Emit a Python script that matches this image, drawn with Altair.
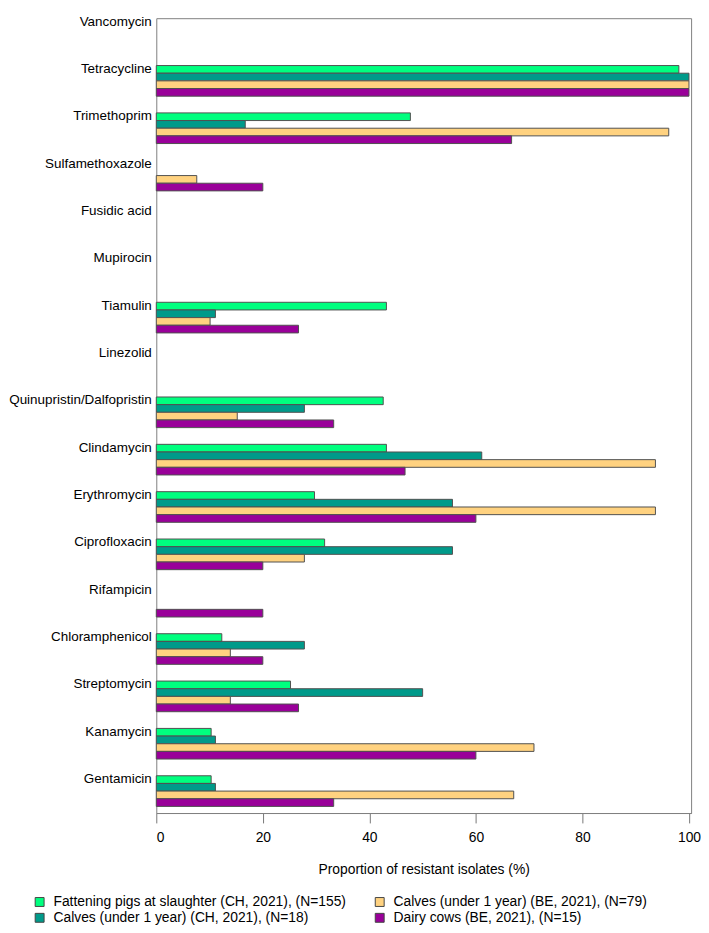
import altair as alt
import pandas as pd

antibiotics = ["Vancomycin", "Tetracycline", "Trimethoprim", "Sulfamethoxazole",
               "Fusidic acid", "Mupirocin", "Tiamulin", "Linezolid",
               "Quinupristin/Dalfopristin", "Clindamycin", "Erythromycin",
               "Ciprofloxacin", "Rifampicin", "Chloramphenicol", "Streptomycin",
               "Kanamycin", "Gentamicin"]

pigs_ch = [0, 98.1, 47.7, 0, 0, 0, 43.2, 0, 42.6, 43.2, 29.7, 31.6, 0, 12.3, 25.2, 10.3, 10.3]
calves_ch = [0, 100, 16.7, 0, 0, 0, 11.1, 0, 27.8, 61.1, 55.6, 55.6, 0, 27.8, 50.0, 11.1, 11.1]
calves_be = [0, 100, 96.2, 7.6, 0, 0, 10.1, 0, 15.2, 93.7, 93.7, 27.8, 0, 13.9, 13.9, 70.9, 67.1]
dairy_be = [0, 100, 66.7, 20.0, 0, 0, 26.7, 0, 33.3, 46.7, 60.0, 20.0, 20.0, 20.0, 26.7, 60.0, 33.3]

s_pigs = "Fattening pigs at slaughter (CH, 2021), (N=155)"
s_cch = "Calves (under 1 year) (CH, 2021), (N=18)"
s_cbe = "Calves (under 1 year) (BE, 2021), (N=79)"
s_dairy = "Dairy cows (BE, 2021), (N=15)"

series = [s_pigs, s_cch, s_cbe, s_dairy]
colors = ["#00FF7F", "#009A8A", "#FFD280", "#990099"]

rows = []
for name, vals in zip(series, [pigs_ch, calves_ch, calves_be, dairy_be]):
    for ab, v in zip(antibiotics, vals):
        rows.append({"Antibiotic": ab, "Series": name, "Value": v})
df = pd.DataFrame(rows)

FONT = "Liberation Sans"

chart = alt.Chart(df).transform_filter(
    alt.datum.Value > 0
).mark_bar(stroke="#505050", strokeWidth=1).encode(
    y=alt.Y("Antibiotic:N", sort=antibiotics,
            scale=alt.Scale(domain=antibiotics, paddingInner=0.353, paddingOuter=0.07,
                            align=0),
            axis=alt.Axis(title=None, labelOffset=-12, ticks=False, domain=False,
                          labelAlign="right",
                          labelFontSize=13.6, labelColor="black", labelPadding=5,
                          labelFont=FONT)),
    yOffset=alt.YOffset("Series:N", sort=series, scale=alt.Scale(domain=series)),
    x=alt.X("Value:Q", scale=alt.Scale(domain=[0, 100.4], nice=False),
            axis=alt.Axis(values=[0, 20, 40, 60, 80, 100],
                          title="Proportion of resistant isolates (%)",
                          grid=False, tickSize=10, tickColor="#777777",
                          domainColor="#808080", labelFontSize=14, labelColor="black",
                          labelFont=FONT, titleFont=FONT, titleFontSize=14,
                          titleFontWeight="normal", titleColor="black",
                          titlePadding=18, labelPadding=8)),
    color=alt.Color("Series:N",
                    scale=alt.Scale(domain=series, range=colors),
                    legend=alt.Legend(title=None, orient="none", legendX=-125, legendY=887,
                                      columns=2, symbolType="square", symbolSize=81,
                                      symbolStrokeColor="#444444", symbolStrokeWidth=1,
                                      symbolOpacity=1,
                                      labelFontSize=14, labelFont=FONT, labelColor="black",
                                      labelOffset=7, columnPadding=26, rowPadding=2,
                                      labelLimit=400)),
).properties(
    width=541, height=804, padding=0
).configure_view(
    stroke="#808080", strokeWidth=1
)

chart.save("out.html", embed_options={"renderer": "svg", "actions": False})
